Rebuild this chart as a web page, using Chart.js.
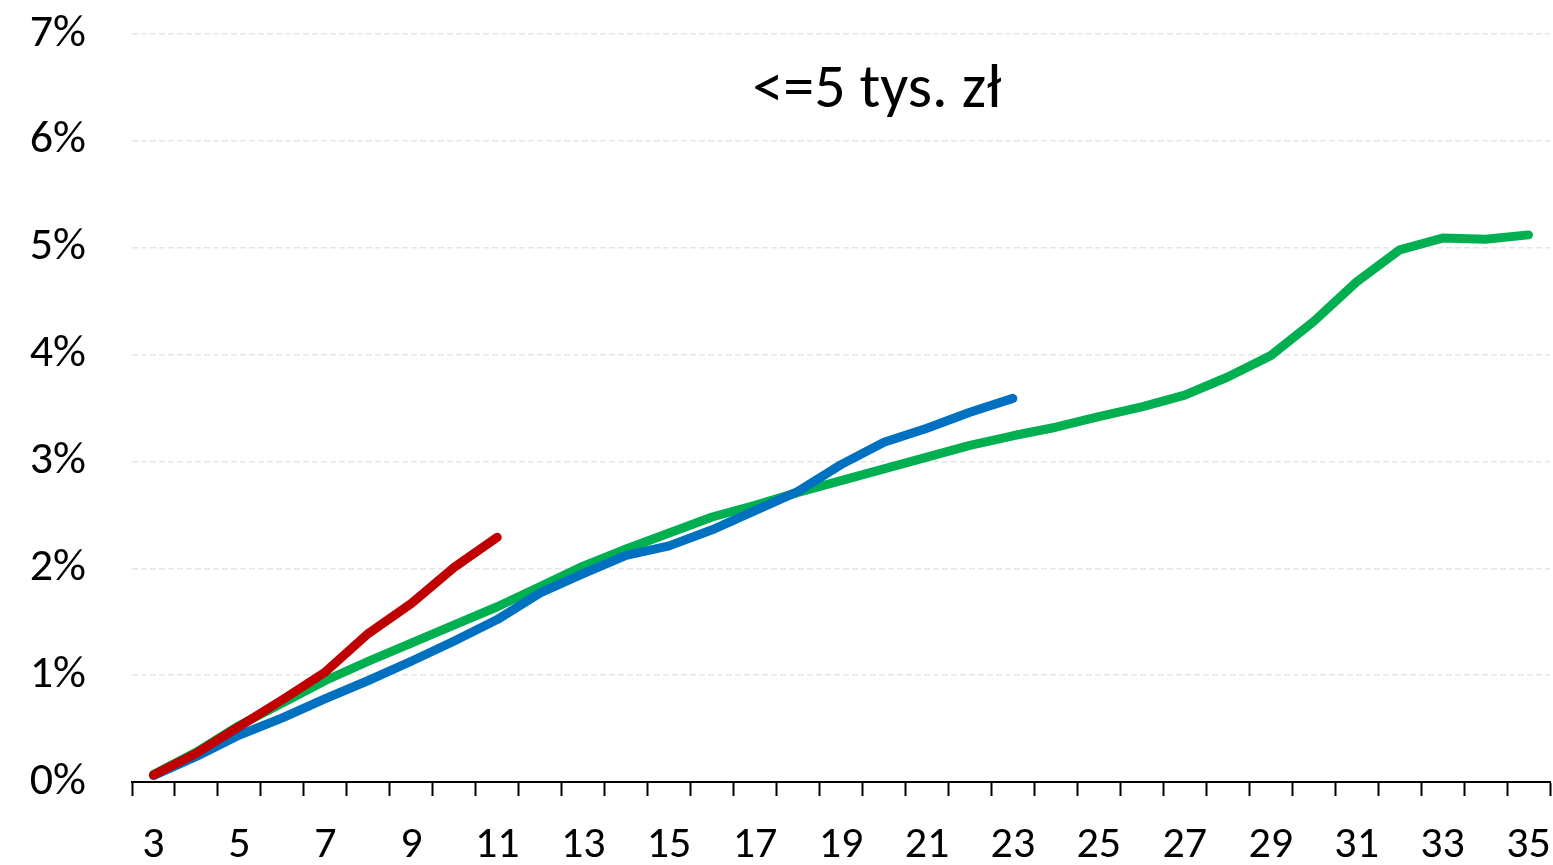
<!DOCTYPE html>
<html>
<head>
<meta charset="utf-8">
<script src="https://cdn.jsdelivr.net/npm/chart.js@4/dist/chart.umd.min.js"></script>
<style>
html,body{margin:0;padding:0;background:#fff;}
#wrap{width:1553px;height:865px;}
</style>
</head>
<body>
<div id="wrap"><canvas id="c" width="1553" height="865"></canvas></div>
<script>
const categories = [3,4,5,6,7,8,9,10,11,12,13,14,15,16,17,18,19,20,21,22,23,24,25,26,27,28,29,30,31,32,33,34,35];
const greenValues = [0.07,0.28,0.53,0.74,0.95,1.13,1.30,1.47,1.64,1.83,2.02,2.18,2.33,2.48,2.59,2.71,2.82,2.93,3.04,3.15,3.24,3.32,3.42,3.51,3.62,3.79,3.99,4.31,4.68,4.98,5.09,5.08,5.12];
const blueValues = [0.06,0.24,0.44,0.60,0.78,0.95,1.13,1.32,1.52,1.77,1.95,2.12,2.21,2.36,2.54,2.72,2.97,3.18,3.31,3.46,3.59];
const redValues = [0.065,0.27,0.52,0.77,1.03,1.39,1.67,2.01,2.29];
const yTicks = [0,1,2,3,4,5,6,7];
const titleText = '<=5 tys. zł';

const FONT = 'Carlito, Calibri, Lato, "Open Sans", sans-serif';

const titlePlugin = {
  id: 'innerTitle',
  afterDatasetsDraw(chart) {
    const {ctx, chartArea} = chart;
    ctx.save();
    ctx.font = '62px ' + FONT;
    ctx.fillStyle = '#000';
    ctx.textAlign = 'center';
    ctx.textBaseline = 'alphabetic';
    const x = chartArea.left + (877 - 132) / 1418 * (chartArea.right - chartArea.left);
    const y = chartArea.top + (107 - 34) / 748 * (chartArea.bottom - chartArea.top);
    ctx.fillText(titleText, x, y);
    ctx.restore();
  }
};

const lineStyle = {
  pointRadius: 0,
  pointHoverRadius: 0,
  borderWidth: 9,
  borderCapStyle: 'round',
  borderJoinStyle: 'round',
  tension: 0,
  fill: false
};

new Chart(document.getElementById('c'), {
  type: 'line',
  data: {
    labels: categories,
    datasets: [
      Object.assign({label: 'seria 3', data: redValues, borderColor: '#C00000', backgroundColor: '#C00000'}, lineStyle),
      Object.assign({label: 'seria 2', data: blueValues, borderColor: '#0070C0', backgroundColor: '#0070C0'}, lineStyle),
      Object.assign({label: 'seria 1', data: greenValues, borderColor: '#00B050', backgroundColor: '#00B050'}, lineStyle)
    ]
  },
  options: {
    responsive: false,
    animation: false,
    devicePixelRatio: 1,
    layout: {padding: {top: 34, right: 3, left: 0, bottom: 0}},
    plugins: {legend: {display: false}, tooltip: {enabled: false}, title: {display: false}},
    scales: {
      x: {
        type: 'category',
        offset: true,
        grid: {offset: true, drawOnChartArea: false, drawTicks: true, tickLength: 14, tickColor: '#000', tickWidth: 2},
        border: {display: true, color: '#000', width: 2},
        ticks: {
          autoSkip: false,
          maxRotation: 0,
          padding: 24,
          color: '#000',
          font: {size: 44, family: FONT},
          callback: function(v, i) { return i % 2 === 0 ? String(categories[i]) : ''; }
        },
        afterFit(scale) { scale.height = 83; scale.paddingLeft = 0; scale.paddingRight = 0; }
      },
      y: {
        min: 0,
        max: 7,
        afterBuildTicks(scale) { scale.ticks = yTicks.map(v => ({value: v})); },
        grid: {color: '#e6e6e6', lineWidth: 1.5, drawTicks: false},
        border: {display: false, dash: [6, 3]},
        ticks: {
          color: '#000',
          padding: 46,
          font: {size: 46, family: FONT},
          callback: v => v + '%'
        },
        afterFit(scale) { scale.width = 132; scale.paddingTop = 0; scale.paddingBottom = 0; }
      }
    }
  },
  plugins: [titlePlugin]
});
</script>
</body>
</html>
